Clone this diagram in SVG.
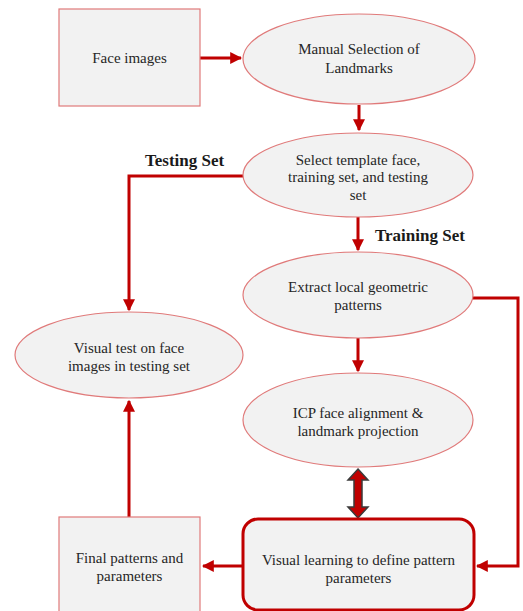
<svg xmlns="http://www.w3.org/2000/svg" width="523" height="611" viewBox="0 0 523 611">
<defs>
<style>
.node{fill:#f2f2f2;stroke:#e07a7a;stroke-width:1.2}
.bold{fill:#f2f2f2;stroke:#c00000;stroke-width:3}
.t{font-family:"Liberation Serif",serif;font-size:15px;fill:#262626;text-anchor:middle}
.lbl{font-family:"Liberation Serif",serif;font-size:17px;font-weight:bold;fill:#1a1a1a}
.c{fill:none;stroke:#c00000;stroke-width:3}
</style>
<marker id="ah" viewBox="0 0 10 10" refX="9" refY="5" markerWidth="4" markerHeight="4" orient="auto" markerUnits="strokeWidth">
<path d="M0,0 L10,5 L0,10 z" fill="#c00000"/>
</marker>
</defs>
<rect width="523" height="611" fill="#ffffff"/>
<g id="connectors">
<path class="c" d="M200,58 H241" marker-end="url(#ah)"/>
<path class="c" d="M359,105 V130" marker-end="url(#ah)"/>
<path class="c" d="M243,176 H129 V310" marker-end="url(#ah)"/>
<path class="c" d="M358,217 V250" marker-end="url(#ah)"/>
<path class="c" d="M358,338 V371" marker-end="url(#ah)"/>
<path class="c" d="M473,298 H518 V566 H477" marker-end="url(#ah)"/>
<path class="c" d="M243,566 H203" marker-end="url(#ah)"/>
<path class="c" d="M129,517 V401" marker-end="url(#ah)"/>
<path d="M358,469 L368,480 L362,480 L362,507 L368,507 L358,518 L348,507 L354,507 L354,480 L348,480 Z" fill="#c00000" stroke="#3a3a3a" stroke-width="1.5" stroke-linejoin="miter"/>
</g>
<g id="face-images">
<rect class="node" x="59" y="9" width="141" height="97"/>
<text class="t" x="129.5" y="63">Face images</text>
</g>
<g id="manual-selection">
<ellipse class="node" cx="359" cy="59" rx="116" ry="45"/>
<text class="t" x="359" y="54">Manual Selection of</text>
<text class="t" x="359" y="73">Landmarks</text>
</g>
<g id="select-template">
<ellipse class="node" cx="358" cy="175" rx="115" ry="42"/>
<text class="t" x="358" y="165">Select template face,</text>
<text class="t" x="358" y="182">training set, and testing</text>
<text class="t" x="358" y="200">set</text>
</g>
<g id="extract-patterns">
<ellipse class="node" cx="358" cy="295" rx="115" ry="43"/>
<text class="t" x="358" y="292">Extract local geometric</text>
<text class="t" x="358" y="310">patterns</text>
</g>
<g id="visual-test">
<ellipse class="node" cx="129" cy="355" rx="114" ry="43"/>
<text class="t" x="129" y="353">Visual test on face</text>
<text class="t" x="129" y="371">images in testing set</text>
</g>
<g id="icp-alignment">
<ellipse class="node" cx="358" cy="420" rx="115" ry="47"/>
<text class="t" x="358" y="418">ICP face alignment &amp;</text>
<text class="t" x="358" y="436">landmark projection</text>
</g>
<g id="visual-learning">
<rect class="bold" x="243" y="519" width="231" height="91" rx="15" ry="15"/>
<text class="t" x="358.5" y="565">Visual learning to define pattern</text>
<text class="t" x="358.5" y="583">parameters</text>
</g>
<g id="final-patterns">
<rect class="node" x="59" y="517" width="141" height="95"/>
<text class="t" x="129.5" y="563">Final patterns and</text>
<text class="t" x="129.5" y="581">parameters</text>
</g>
<text class="lbl" x="145" y="166">Testing Set</text>
<text class="lbl" x="375" y="241">Training Set</text>
</svg>
